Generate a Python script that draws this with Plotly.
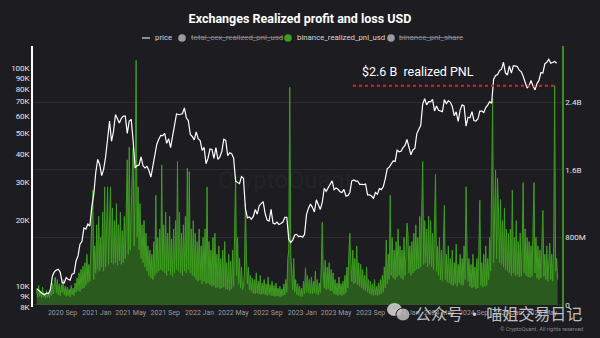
import pandas as pd
import plotly.graph_objects as go

# ---------------- DATA ----------------
# Weekly BTC price (USD), Mondays starting 2020-06-01
price_2020 = [9700, 9500, 9300, 9200, 9100,
              9250, 9200, 9600, 11100,
              11600, 11800, 11900, 11500, 10300,
              10300, 10900, 10700, 10600,
              11300, 11400, 13000, 13700,
              15500, 16000, 18400, 18200, 19200,
              18800, 23000, 26300, 33000]
price_2021 = [38000, 36000, 32000, 34200,
              39000, 47000, 57000, 46000,
              51000, 61000, 58000, 55800, 58700,
              60000, 60000, 50000, 57000,
              58000, 46000, 34700, 35600, 35800,
              39000, 35500, 34700, 35300,
              33800, 31500, 35400, 39800,
              44600, 47000, 49000, 48800, 50000,
              45000, 47300, 43000, 48000,
              55000, 61500, 60900, 61300,
              61500, 65500, 59000, 57200, 49400,
              48400, 46700, 50800, 47300]
price_2022 = [46400, 41800, 43100, 36300, 38500,
              42400, 42200, 38400, 43000,
              38000, 39000, 41300, 47000,
              46400, 39500, 40800, 40400,
              38500, 30200, 29800, 29400, 31700,
              31100, 22500, 20500, 20700,
              20200, 20800, 22400, 21300,
              23300, 23800, 24300, 21400, 20000,
              19800, 22400, 19400, 19200,
              19600, 19100, 19300, 19600, 20600,
              20600, 16300, 15800, 16200,
              17100, 17200, 16800, 16900]
price_2023 = [16700, 17200, 21200, 22700, 23700,
              22900, 21800, 24800, 23500,
              22400, 24100, 28000, 27100,
              28000, 29000, 30300, 27600,
              28100, 27700, 27000, 26800, 27700,
              25800, 25900, 26800, 30300,
              30600, 30200, 30200, 29200, 29200,
              29100, 29300, 26100, 26100,
              25800, 25200, 26800, 26300,
              27900, 27600, 28500, 31000, 34500,
              35000, 36500, 37400, 37200,
              41900, 41200, 41400, 43000]
price_2024 = [44000, 46900, 42500, 39900, 42000,
              42700, 49900, 51800, 54500,
              68300, 72100, 67600, 69900,
              69700, 71600, 63400, 66800, 63800,
              63100, 62900, 71400, 68500,
              70500, 69600, 66500, 60300,
              62800, 56700, 64000, 67600, 66800,
              54000, 59300, 59000, 62900,
              57300, 57000, 58200, 63300, 63300,
              62300, 65700, 67400, 69900,
              68800, 88700, 92300, 93000,
              97300, 98400, 106000, 94700, 92700]
price_2025 = [102000, 94500, 102000, 102000,
              101400, 97500, 96100, 91500,
              86100, 80700, 82700, 87500, 82400,
              79200, 84500, 87500, 95000,
              94700, 104200, 106000, 109400,
              105000, 105700, 106800, 105000]
price = price_2020 + price_2021 + price_2022 + price_2023 + price_2024 + price_2025
price_dates = pd.date_range("2020-06-01", periods=len(price), freq="7D")

# Binance realized PnL (USD millions), twice weekly starting 2020-06-01
binance_pnl_m = [
    180, 90, 230, 100, 160, 85, 210, 95, 140, 80,
    170, 90, 150, 85, 200, 110, 260, 130, 280, 330,
    140, 300, 120, 250, 110, 240, 150, 300, 120, 220,
    100, 210, 110, 190, 95, 230, 120, 200, 110, 260,
    150, 320, 170, 380, 160, 420, 190, 460, 200, 500,
    230, 600, 260, 480, 280, 650, 1100, 1360, 300, 700,
    380, 950, 420, 1050, 400, 800, 450, 1100, 400, 1400,
    450, 1000, 1400, 480, 900, 1400, 500, 1150, 480, 1000,
    500, 1200, 470, 950, 520, 1100, 480, 880, 500, 1050,
    550, 1300, 1720, 600, 1870, 650, 1250, 1550, 1870, 700,
    1500, 2900, 800, 1400, 650, 1200, 550, 950, 500, 1000,
    450, 850, 400, 700, 350, 650, 320, 600, 300, 750,
    350, 1300, 380, 800, 400, 900, 420, 1660, 400, 950,
    380, 1100, 350, 850, 400, 1050, 360, 780, 340, 900,
    380, 1000, 420, 1700, 400, 1100, 380, 850, 350, 950,
    400, 1050, 380, 1620, 420, 1580, 380, 900, 350, 1000,
    330, 850, 300, 750, 280, 900, 300, 700, 250, 800,
    280, 900, 250, 1400, 260, 750, 240, 650, 220, 800,
    230, 850, 200, 600, 210, 700, 190, 550, 200, 650,
    210, 750, 190, 500, 180, 600, 170, 520, 190, 650,
    220, 900, 1520, 350, 800, 250, 550, 200, 450, 180,
    220, 400, 1200, 570, 250, 450, 180, 350, 160, 320,
    140, 300, 130, 380, 140, 280, 130, 350, 120, 260,
    130, 300, 120, 250, 110, 330, 120, 240, 110, 280,
    110, 230, 100, 260, 105, 200, 100, 220, 95, 190,
    110, 250, 120, 300, 150, 550, 650, 2580, 600, 400,
    180, 550, 150, 300, 120, 250, 110, 220, 100, 200,
    100, 280, 130, 440, 150, 350, 140, 300, 130, 330,
    130, 280, 140, 400, 130, 300, 120, 260, 150, 450,
    980, 400, 200, 530, 180, 450, 190, 500, 170, 420,
    160, 380, 130, 300, 120, 260, 110, 330, 120, 250,
    110, 280, 120, 350, 140, 450, 200, 600, 850, 500,
    280, 650, 250, 550, 260, 700, 240, 500, 220, 480,
    200, 420, 180, 350, 170, 450, 150, 300, 130, 280,
    120, 250, 110, 300, 120, 220, 110, 260, 120, 300,
    130, 350, 150, 450, 200, 770, 250, 600, 300, 1300,
    350, 800, 320, 650, 300, 750, 330, 900, 350, 700,
    320, 650, 300, 800, 350, 600, 970, 850, 380, 700,
    350, 750, 380, 850, 400, 950, 420, 800, 430, 1050,
    450, 1100, 1700, 480, 1000, 500, 900, 450, 1050, 480,
    1000, 450, 850, 420, 1200, 1550, 400, 700, 350, 800,
    300, 650, 280, 750, 1180, 300, 600, 270, 700, 260,
    550, 240, 650, 230, 500, 250, 720, 220, 480, 260,
    600, 240, 550, 230, 700, 300, 1400, 650, 280, 550,
    220, 480, 200, 600, 210, 450, 190, 550, 200, 650,
    1240, 230, 500, 210, 600, 220, 700, 230, 550, 300,
    800, 400, 1200, 2450, 500, 1300, 1600, 550, 1500, 1100,
    500, 1250, 480, 1000, 450, 1150, 420, 900, 400, 850,
    380, 900, 350, 1360, 380, 800, 350, 1000, 360, 750,
    330, 850, 340, 700, 1450, 380, 900, 350, 800, 330,
    750, 320, 700, 340, 900, 1450, 380, 800, 320, 700,
    300, 650, 320, 750, 1120, 340, 600, 300, 700, 280,
    550, 730, 300, 600, 280, 700, 2600, 400, 550, 300,
]
pnl_dates = pd.date_range("2020-06-01", periods=len(binance_pnl_m), freq="84h")

price_ticks = [8000, 9000, 10000, 20000, 30000, 40000, 50000, 60000, 70000, 80000, 90000, 100000]
price_tick_text = ["8K", "9K", "10K", "20K", "30K", "40K", "50K", "60K", "70K", "80K", "90K", "100K"]
pnl_ticks = [0, 800, 1600, 2400]
pnl_tick_text = ["0", "800M", "1.6B", "2.4B"]

ref_level = 2600                      # $2.6B reference level
ref_start, ref_end = "2023-06-30", "2025-06-18"
ref_label = "$2.6 B  realized PNL"

# ---------------- STYLE ----------------
BG = "#1c1c21"
FONT = "Roboto, sans-serif"
W, H = 600, 338
L, R, T, B = 33, 38, 46, 31
PW, PH = W - L - R, H - T - B


def px_x(p):
    return (p - L) / PW


def px_y(p):
    return (H - B - p) / PH


fig = go.Figure()
fig.add_trace(go.Scatter(
    x=pnl_dates, y=binance_pnl_m, mode="lines", yaxis="y",
    line=dict(color="#3f9d22", width=1),
    fill="tozeroy", fillcolor="rgba(46,98,30,0.9)",
    name="binance_realized_pnl_usd", hoverinfo="skip"))
fig.add_trace(go.Scatter(
    x=price_dates, y=price, mode="lines", yaxis="y2",
    line=dict(color="white", width=1.2), name="price"))

fig.update_layout(
    width=W, height=H,
    margin=dict(l=L, r=R, t=T, b=B),
    paper_bgcolor=BG, plot_bgcolor=BG,
    showlegend=False,
    title=dict(text="<b>Exchanges Realized profit and loss USD</b>",
               x=0.5, xanchor="center", y=1 - 19 / H, yanchor="middle",
               font=dict(family=FONT, size=12.5, color="white")),
    xaxis=dict(type="date", range=["2020-05-19", "2025-07-12"],
               tick0="2020-09-01", dtick="M4", tickformat="%Y %b", tickangle=0,
               showgrid=False, zeroline=False, showline=False, ticks="",
               tickfont=dict(family=FONT, size=7, color="#9a9a9a")),
    yaxis=dict(side="right", range=[-25, 3070],
               tickvals=pnl_ticks, ticktext=pnl_tick_text,
               showgrid=True, gridcolor="rgba(255,255,255,0.07)", gridwidth=1,
               zeroline=False, showline=True, linecolor="#3a8f22", linewidth=1.5,
               ticks="", tickfont=dict(family=FONT, size=8, color="#e6e6e6")),
    yaxis2=dict(side="left", overlaying="y", type="log", range=[3.9025, 5.100],
                tickvals=price_ticks, ticktext=price_tick_text,
                showgrid=False, zeroline=False, showline=True,
                linecolor="white", linewidth=1.5, ticks="",
                tickfont=dict(family=FONT, size=8, color="#e6e6e6")),
)

# reference line and label
fig.add_shape(type="line", xref="x", yref="y", x0=ref_start, x1=ref_end,
              y0=ref_level, y1=ref_level,
              line=dict(color="#e3202b", width=2, dash="dot"))
fig.add_annotation(text=ref_label, xref="x", yref="y", x="2024-02-16", y=2770,
                   showarrow=False, xanchor="center", yanchor="middle",
                   font=dict(family=FONT, size=12.5, color="white"))

# custom legend
LY = 38
ly = px_y(LY)
fig.add_shape(type="line", xref="paper", yref="paper", x0=px_x(142), x1=px_x(150),
              y0=ly, y1=ly, line=dict(color="#dddddd", width=1.2))
legend_items = [
    (153, None, "price", "#d8d8d8"),
    (189, (182, "#9a9a9f"), "<s>total_cex_realized_pnl_usd</s>", "#8c8c90"),
    (295, (288, "#3f9d22"), "binance_realized_pnl_usd", "#d8d8d8"),
    (397, (391, "#9a9a9f"), "<s>binance_pnl_share</s>", "#8c8c90"),
]
for tx, dot, label, col in legend_items:
    fig.add_annotation(text=label, xref="paper", yref="paper", x=px_x(tx), y=ly,
                       xanchor="left", yanchor="middle", showarrow=False,
                       font=dict(family=FONT, size=7.8, color=col))
    if dot:
        cx, dc = dot
        fig.add_shape(type="circle", xref="paper", yref="paper",
                      x0=px_x(cx - 3.8), x1=px_x(cx + 3.8),
                      y0=px_y(LY + 3.8), y1=px_y(LY - 3.8),
                      fillcolor=dc, line=dict(width=0))

# watermarks
fig.add_annotation(text="CryptoQuant", xref="paper", yref="paper",
                   x=px_x(285), y=px_y(180), showarrow=False,
                   font=dict(family=FONT, size=24, color="rgba(255,255,255,0.05)"))
fig.add_shape(type="circle", xref="paper", yref="paper",
              x0=px_x(387), x1=px_x(402), y0=px_y(316), y1=px_y(303),
              fillcolor="rgba(215,215,215,0.85)", line=dict(width=0))
fig.add_shape(type="circle", xref="paper", yref="paper",
              x0=px_x(396), x1=px_x(410), y0=px_y(321), y1=px_y(308),
              fillcolor="rgba(190,190,190,0.85)", line=dict(color=BG, width=1))
fig.add_annotation(text="公众号 · 喵姐交易日记", xref="paper", yref="paper",
                   x=px_x(413), y=px_y(313), xanchor="left", yanchor="middle",
                   showarrow=False,
                   font=dict(family="Noto Sans CJK SC", size=16, color="rgba(235,235,235,0.8)"))
fig.add_annotation(text="© CryptoQuant. All rights reserved", xref="paper", yref="paper",
                   x=px_x(585), y=px_y(329), xanchor="right", yanchor="middle",
                   showarrow=False,
                   font=dict(family=FONT, size=5.5, color="#8a8a8a"))

fig.write_html("out.html")
